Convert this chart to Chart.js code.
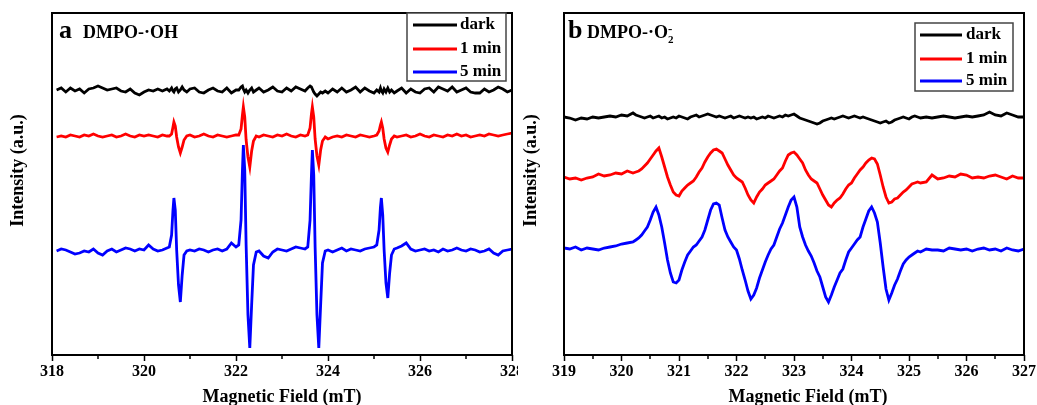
<!DOCTYPE html>
<html>
<head>
<meta charset="utf-8">
<title>DMPO spin-trap EPR spectra</title>
<script src="https://cdn.jsdelivr.net/npm/chart.js@4.4.1/dist/chart.umd.min.js"></script>
<style>
  html, body { margin: 0; padding: 0; background: #fff; overflow: hidden; }
  #wrap { position: relative; width: 1037px; height: 405px; }
  canvas { position: absolute; top: 0; }
  #chartA { left: 0; }
  #chartB { left: 518px; }
</style>
</head>
<body>
<div id="wrap">
  <canvas id="chartA" width="518" height="405"></canvas>
  <canvas id="chartB" width="519" height="405"></canvas>
</div>
<script>
// ---- Panel a: DMPO-·OH (field in mT, intensity in a.u.) ----
const fieldA = [
  318.1, 318.2, 318.3, 318.4, 318.5, 318.6, 318.7, 318.8, 318.9, 319.0, 319.1, 319.2, 319.3,
  319.4, 319.5, 319.6, 319.7, 319.8, 319.9, 320.0, 320.1, 320.2, 320.3, 320.4, 320.5,
  320.55, 320.6, 320.63, 320.65, 320.68, 320.71, 320.75, 320.79, 320.83, 320.87, 320.93,
  321.0, 321.1, 321.2, 321.3, 321.4, 321.5, 321.6, 321.7, 321.8, 321.9, 322.0,
  322.06, 322.11, 322.14, 322.16, 322.19, 322.22, 322.26, 322.3, 322.34, 322.38, 322.44,
  322.5, 322.6, 322.7, 322.8, 322.9, 323.0, 323.1, 323.2, 323.3, 323.4, 323.5,
  323.56, 323.61, 323.64, 323.66, 323.69, 323.72, 323.76, 323.8, 323.84, 323.88, 323.94,
  324.0, 324.1, 324.2, 324.3, 324.4, 324.5, 324.6, 324.7, 324.8, 324.9, 325.0,
  325.06, 325.11, 325.14, 325.16, 325.19, 325.22, 325.26, 325.3, 325.34, 325.38, 325.44,
  325.5, 325.6, 325.7, 325.8, 325.9, 326.0, 326.1, 326.2, 326.3, 326.4, 326.5, 326.6, 326.7,
  326.8, 326.9, 327.0, 327.1, 327.2, 327.3, 327.4, 327.5, 327.6, 327.7, 327.8, 327.9, 328.0
];
const darkA = [
  265, 267, 263, 267, 264, 266, 262, 266, 267, 269, 267, 265, 266,
  267, 264, 263, 266, 262, 260, 263, 265, 264, 266, 264, 266,
  264, 267, 264, 263, 266, 267, 263, 265, 268, 265, 263,
  266, 267, 263, 262, 265, 267, 264, 263, 267, 262, 265,
  265, 268, 269, 266, 263, 265, 262, 265, 267, 263, 265,
  267, 263, 265, 268, 264, 263, 267, 264, 268, 266, 264,
  267, 269, 268, 266, 263, 261, 259, 261, 263, 262, 264,
  262, 266, 263, 267, 263, 265, 268, 263, 267, 264, 262,
  265, 263, 267, 264, 262, 266, 263, 267, 263, 265, 262,
  264, 267, 262, 266, 263, 262, 266, 267, 263, 268, 266, 264, 268,
  263, 265, 267, 263, 262, 262, 266, 263, 265, 268, 266, 263, 265
];
const oneMinA = [
  218, 219, 218, 220, 219, 218, 220, 219, 221, 219, 218, 219, 220,
  218, 219, 221, 219, 218, 220, 219, 220, 219, 218, 220, 219,
  219, 221, 228, 233, 229, 218, 208, 202, 208, 215, 219,
  220, 218, 219, 221, 219, 218, 220, 219, 218, 219, 220,
  220, 226, 240, 248, 238, 215, 198, 188, 204, 214, 219,
  218, 220, 219, 218, 220, 219, 221, 219, 218, 220, 219,
  220, 227, 241, 248, 238, 216, 199, 190, 205, 214, 218,
  216, 218, 219, 218, 220, 219, 218, 220, 219, 218, 219,
  220, 224, 230, 233, 227, 216, 207, 203, 210, 216, 219,
  218, 219, 220, 218, 219, 221, 219, 218, 220, 219, 218, 220, 219,
  221, 219, 220, 218, 219, 220, 219, 221, 220, 219, 220, 221, 222
];
const fiveMinA = [
  104, 106, 105, 103, 101, 102, 104, 103, 106, 102, 100, 104, 106,
  103, 105, 107, 106, 104, 106, 105, 110, 106, 104, 105, 107,
  108, 120, 145, 157, 145, 105, 70, 53, 80, 100, 104,
  105, 104, 106, 105, 103, 105, 106, 104, 106, 112, 108,
  110, 135, 185, 210, 185, 110, 40, 7, 50, 90, 103,
  104, 99, 97, 103, 106, 105, 104, 106, 108, 107, 106,
  108, 135, 180, 205, 180, 108, 40, 7, 50, 92, 104,
  105, 103, 105, 107, 104, 106, 105, 104, 106, 107, 108,
  110, 125, 148, 157, 140, 105, 72, 57, 82, 100, 106,
  107, 109, 112, 106, 104, 105, 106, 104, 105, 103, 106, 104, 105,
  107, 105, 104, 106, 105, 103, 104, 106, 102, 100, 104, 105, 106
];

// ---- Panel b: DMPO-·O2- ----
const fieldB = [
  319.0, 319.1, 319.2, 319.3, 319.4, 319.5, 319.6, 319.7, 319.8, 319.9, 320.0, 320.1, 320.2,
  320.25, 320.3, 320.35, 320.4, 320.45, 320.5, 320.55, 320.6, 320.65, 320.7,
  320.75, 320.8, 320.85, 320.9, 320.95, 321.0, 321.05, 321.1, 321.15, 321.2,
  321.25, 321.3, 321.35, 321.4, 321.45, 321.5, 321.55, 321.6, 321.65, 321.7,
  321.75, 321.8, 321.85, 321.9, 321.95, 322.0, 322.05, 322.1, 322.15, 322.2,
  322.25, 322.3, 322.35, 322.4, 322.45, 322.5, 322.55, 322.6, 322.65, 322.7,
  322.75, 322.8, 322.85, 322.9, 322.95, 323.0, 323.05, 323.1, 323.15, 323.2,
  323.25, 323.3, 323.35, 323.4, 323.45, 323.5, 323.55, 323.6, 323.65, 323.7,
  323.75, 323.8, 323.85, 323.9, 323.95, 324.0, 324.05, 324.1, 324.15, 324.2,
  324.25, 324.3, 324.35, 324.4, 324.45, 324.5, 324.55, 324.6, 324.65, 324.7,
  324.75, 324.8, 324.85, 324.9, 324.95, 325.0, 325.05, 325.1, 325.15, 325.2,
  325.3, 325.4, 325.5, 325.6, 325.7, 325.8, 325.9, 326.0, 326.1,
  326.2, 326.3, 326.4, 326.5, 326.6, 326.7, 326.8, 326.9, 327.0
];
const darkB = [
  238, 237, 235, 237, 236, 238, 237, 238, 239, 238, 240, 239, 242,
  240, 239, 238, 237, 238, 239, 237, 238, 239, 237,
  238, 236, 237, 238, 237, 239, 238, 237, 236, 238,
  239, 240, 238, 239, 240, 241, 240, 239, 238, 239,
  238, 237, 238, 239, 237, 238, 239, 238, 237, 238,
  237, 238, 236, 237, 238, 237, 239, 238, 237, 238,
  239, 238, 240, 239, 240, 241, 239, 237, 236, 235,
  234, 233, 232, 231, 232, 234, 235, 236, 237, 236,
  237, 238, 239, 238, 237, 238, 239, 238, 237, 238,
  237, 236, 235, 234, 233, 232, 233, 234, 232, 233,
  235, 236, 237, 238, 237, 236, 238, 239, 238, 237,
  238, 237, 238, 239, 238, 237, 238, 239, 238,
  239, 240, 243, 240, 239, 242, 240, 238, 238
];
const oneMinB = [
  178, 176, 177, 175, 177, 178, 181, 179, 180, 182, 181, 184, 182,
  183, 184, 186, 189, 192, 196, 200, 204, 207, 198,
  188, 178, 170, 163, 160, 159, 164, 167, 170, 172,
  174, 178, 183, 187, 193, 198, 202, 205, 206, 204,
  202, 196, 190, 185, 180, 177, 175, 173, 167, 160,
  155, 152, 158, 163, 166, 170, 172, 174, 176, 180,
  184, 187, 194, 200, 202, 203, 200, 196, 192, 185,
  180, 176, 174, 172, 166, 160, 155, 150, 148, 152,
  155, 157, 161, 166, 170, 172, 177, 181, 185, 188,
  192, 195, 197, 196, 191, 180, 168, 158, 152, 153,
  156, 157, 160, 163, 165, 168, 171, 172, 173, 172,
  173, 180, 176, 177, 179, 178, 181, 180, 177,
  178, 177, 179, 180, 178, 176, 179, 177, 177
];
const fiveMinB = [
  107, 106, 108, 105, 107, 106, 105, 107, 108, 109, 111, 112, 113,
  115, 117, 120, 124, 128, 135, 143, 148, 140, 128,
  112, 95, 82, 73, 72, 75, 85, 93, 100, 104,
  108, 110, 114, 118, 125, 135, 145, 151, 152, 150,
  137, 125, 118, 113, 108, 105, 96, 85, 75, 64,
  56, 60, 67, 77, 85, 93, 100, 106, 110, 118,
  126, 132, 140, 148, 155, 158, 148, 128, 118, 110,
  104, 99, 92, 84, 78, 68, 58, 53, 60, 68,
  75, 82, 86, 95, 103, 107, 111, 115, 118, 128,
  136, 144, 148, 142, 133, 112, 88, 66, 55, 62,
  70, 76, 84, 91, 95, 98, 100, 102, 104, 103,
  106, 105, 105, 104, 107, 106, 105, 106, 104,
  106, 107, 105, 106, 104, 107, 105, 104, 106
];

const seriesLabels = ['dark', '1 min', '5 min'];
const seriesColors = ['#000000', '#ff0000', '#0000ff'];

const SERIF = '"Liberation Serif", "Times New Roman", serif';

function toPoints(field, values) {
  return field.map((f, i) => ({ x: f, y: values[i] }));
}

function isMajor(value, step) {
  return Math.abs(value / step - Math.round(value / step)) < 1e-6;
}

// Frame, minor ticks, legend box, panel label and axis titles
function panelDecor(cfg) {
  return {
    id: 'panelDecor',
    afterDraw(chart) {
      const { ctx, chartArea: area, scales: { x } } = chart;
      ctx.save();

      // minor ticks
      ctx.strokeStyle = '#000';
      ctx.lineWidth = 1.5;
      x.ticks.forEach(t => {
        if (isMajor(t.value, cfg.major)) return;
        const px = Math.round(x.getPixelForValue(t.value));
        ctx.beginPath();
        ctx.moveTo(px, area.bottom);
        ctx.lineTo(px, area.bottom + 4);
        ctx.stroke();
      });

      // plot frame
      ctx.lineWidth = 2;
      ctx.strokeRect(area.left, area.top, area.right - area.left, area.bottom - area.top);

      // legend
      const lg = cfg.legend;
      ctx.fillStyle = '#fff';
      ctx.fillRect(lg.x, lg.y, lg.w, lg.h);
      ctx.strokeStyle = '#444';
      ctx.lineWidth = 1.5;
      ctx.strokeRect(lg.x, lg.y, lg.w, lg.h);
      ctx.font = 'bold 17px ' + SERIF;
      ctx.textBaseline = 'middle';
      ctx.textAlign = 'left';
      chart.data.datasets.forEach((ds, i) => {
        const y = lg.rows[i];
        ctx.strokeStyle = ds.borderColor;
        ctx.lineWidth = 3;
        ctx.beginPath();
        ctx.moveTo(lg.line0, y);
        ctx.lineTo(lg.line1, y);
        ctx.stroke();
        ctx.fillStyle = '#000';
        ctx.fillText(ds.label, lg.textX, y);
      });

      // panel letter and species
      ctx.fillStyle = '#000';
      ctx.textBaseline = 'alphabetic';
      ctx.font = 'bold 26px ' + SERIF;
      ctx.fillText(cfg.letter, cfg.letterX, cfg.labelY);
      let tx = cfg.speciesX;
      cfg.species.forEach(part => {
        ctx.font = 'bold ' + part.size + 'px ' + SERIF;
        ctx.fillText(part.text, tx + (part.dx || 0), cfg.labelY + (part.dy || 0));
        if (!part.noAdvance) tx += ctx.measureText(part.text).width;
      });

      // axis titles
      ctx.font = 'bold 18px ' + SERIF;
      ctx.textAlign = 'center';
      ctx.textBaseline = 'middle';
      ctx.fillText('Magnetic Field (mT)', cfg.xTitleX, 397);
      ctx.translate(cfg.yTitleX, 170.5);
      ctx.rotate(-Math.PI / 2);
      ctx.fillText('Intensity (a.u.)', 0, 0);

      ctx.restore();
    }
  };
}

function makeChart(id, field, series, axis, cfg) {
  const datasets = series.map((vals, i) => ({
    label: seriesLabels[i],
    data: toPoints(field, vals),
    borderColor: seriesColors[i],
    backgroundColor: seriesColors[i],
    borderWidth: 2.8,
    pointRadius: 0,
    tension: 0,
    fill: false
  }));

  return new Chart(document.getElementById(id), {
    type: 'line',
    data: { datasets },
    options: {
      responsive: false,
      animation: false,
      events: [],
      layout: { padding: { left: cfg.padLeft, right: cfg.padRight, top: 13, bottom: 0 } },
      plugins: { legend: { display: false }, tooltip: { enabled: false } },
      scales: {
        x: {
          type: 'linear',
          min: axis.min,
          max: axis.max,
          afterFit: s => { s.height = 50; s.paddingLeft = 0; s.paddingRight = 0; },
          border: { display: false },
          grid: {
            drawOnChartArea: false,
            drawTicks: true,
            tickLength: 6,
            tickWidth: 1.5,
            tickColor: c => isMajor(c.tick.value, cfg.major) ? '#000' : 'rgba(0,0,0,0)'
          },
          ticks: {
            stepSize: axis.step,
            autoSkip: false,
            maxRotation: 0,
            padding: 1,
            color: '#000',
            font: { family: SERIF, size: 16, weight: 'bold' },
            callback: v => isMajor(v, cfg.major) ? String(Math.round(v)) : ''
          }
        },
        y: { display: false, min: 0, max: 342 }
      }
    },
    plugins: [panelDecor(cfg)]
  });
}

makeChart('chartA', fieldA, [darkA, oneMinA, fiveMinA], { min: 318, max: 328, step: 1 }, {
  padLeft: 52, padRight: 6, major: 2,
  legend: { x: 407, y: 13, w: 99, h: 68, rows: [25, 49, 72], line0: 413, line1: 457, textX: 460 },
  letter: 'a', letterX: 59, labelY: 38, speciesX: 83,
  species: [{ text: 'DMPO-·OH', size: 18 }],
  xTitleX: 282, yTitleX: 18.5
});

makeChart('chartB', fieldB, [darkB, oneMinB, fiveMinB], { min: 319, max: 327, step: 0.5 }, {
  padLeft: 46, padRight: 13, major: 1,
  legend: { x: 397, y: 23, w: 98, h: 68, rows: [35, 59, 81], line0: 402, line1: 444, textX: 448 },
  letter: 'b', letterX: 50, labelY: 38, speciesX: 69,
  species: [
    { text: 'DMPO-·O', size: 18 },
    { text: '2', size: 11, dy: 5, noAdvance: true },
    { text: '-', size: 13, dy: -5 }
  ],
  xTitleX: 290, yTitleX: 13.5
});
</script>
</body>
</html>
